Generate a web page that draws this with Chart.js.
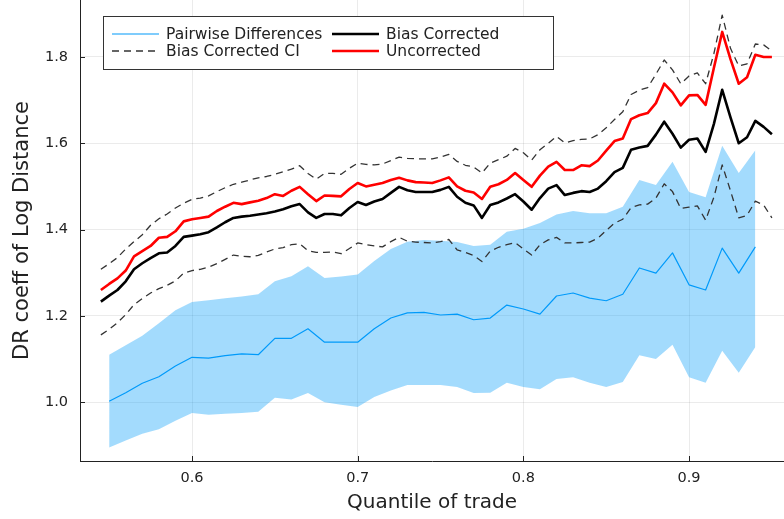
<!DOCTYPE html>
<html>
<head>
<meta charset="utf-8">
<script src="https://cdn.jsdelivr.net/npm/chart.js@4"></script>
<style>
  html, body { margin: 0; padding: 0; background: #fff; }
  #wrap { position: relative; width: 784px; height: 519px; }
</style>
</head>
<body>
<div id="wrap"><canvas id="chart"></canvas></div>
<script>
// quantile grid for the bias corrected / uncorrected lines
const lineX = [
  0.545, 0.55, 0.555, 0.56, 0.565, 0.57, 0.575, 0.58, 0.585, 0.59,
  0.595, 0.6, 0.605, 0.61, 0.615, 0.62, 0.625, 0.63, 0.635, 0.64,
  0.645, 0.65, 0.655, 0.66, 0.665, 0.67, 0.675, 0.68, 0.685, 0.69,
  0.695, 0.7, 0.705, 0.71, 0.715, 0.72, 0.725, 0.73, 0.735, 0.74,
  0.745, 0.75, 0.755, 0.76, 0.765, 0.77, 0.775, 0.78, 0.785, 0.79,
  0.795, 0.8, 0.805, 0.81, 0.815, 0.82, 0.825, 0.83, 0.835, 0.84,
  0.845, 0.85, 0.855, 0.86, 0.865, 0.87, 0.875, 0.88, 0.885, 0.89,
  0.895, 0.9, 0.905, 0.91, 0.915, 0.92, 0.925, 0.93, 0.935, 0.94,
  0.945, 0.95
];
const biasCorrected = [
  1.233, 1.247, 1.260, 1.280, 1.308, 1.322, 1.334, 1.345, 1.347, 1.362,
  1.383, 1.386, 1.389, 1.394, 1.405, 1.417, 1.427, 1.430, 1.432, 1.435,
  1.438, 1.442, 1.447, 1.454, 1.459, 1.440, 1.427, 1.436, 1.436, 1.433,
  1.450, 1.464, 1.457, 1.465, 1.471, 1.485, 1.499, 1.491, 1.487, 1.487,
  1.487, 1.492, 1.499, 1.476, 1.462, 1.456, 1.427, 1.457, 1.463, 1.472,
  1.482, 1.465, 1.446, 1.473, 1.495, 1.503, 1.480, 1.485, 1.489, 1.487,
  1.495, 1.512, 1.533, 1.543, 1.585, 1.590, 1.594, 1.620, 1.650, 1.622,
  1.590, 1.608, 1.611, 1.580, 1.645, 1.724, 1.660, 1.600, 1.614, 1.652,
  1.638, 1.621
];
const uncorrected = [
  1.260, 1.274, 1.287, 1.305, 1.338, 1.350, 1.362, 1.381, 1.383, 1.396,
  1.419, 1.424, 1.427, 1.430, 1.443, 1.453, 1.462, 1.459, 1.463, 1.467,
  1.473, 1.482, 1.478, 1.490, 1.499, 1.482, 1.466, 1.479, 1.478, 1.477,
  1.494, 1.508, 1.500, 1.504, 1.508, 1.515, 1.520, 1.514, 1.510, 1.509,
  1.508, 1.514, 1.521, 1.500, 1.490, 1.486, 1.471, 1.499, 1.505, 1.515,
  1.531, 1.515, 1.499, 1.525, 1.546, 1.557, 1.538, 1.538, 1.549, 1.547,
  1.560, 1.583, 1.605, 1.611, 1.656, 1.665, 1.670, 1.693, 1.738, 1.718,
  1.688, 1.711, 1.712, 1.689, 1.775, 1.858, 1.795, 1.738, 1.753, 1.805,
  1.800, 1.800
];
const ciUpper = [
  1.308, 1.321, 1.335, 1.355, 1.372, 1.388, 1.410, 1.425, 1.436, 1.450,
  1.461, 1.470, 1.473, 1.478, 1.488, 1.497, 1.505, 1.510, 1.515, 1.520,
  1.523, 1.528, 1.534, 1.540, 1.548, 1.530, 1.517, 1.530, 1.530, 1.528,
  1.542, 1.554, 1.551, 1.550, 1.552, 1.560, 1.568, 1.565, 1.564, 1.564,
  1.564, 1.568, 1.574, 1.558, 1.549, 1.545, 1.531, 1.554, 1.562, 1.570,
  1.588, 1.578, 1.561, 1.585, 1.600, 1.616, 1.601, 1.606, 1.609, 1.610,
  1.620, 1.636, 1.655, 1.673, 1.713, 1.723, 1.729, 1.760, 1.793, 1.770,
  1.738, 1.756, 1.763, 1.738, 1.808, 1.897, 1.820, 1.779, 1.784, 1.830,
  1.828, 1.814
];
const ciLower = [
  1.156, 1.169, 1.184, 1.203, 1.226, 1.240, 1.253, 1.263, 1.271, 1.281,
  1.299, 1.305, 1.308, 1.313, 1.321, 1.331, 1.341, 1.338, 1.337, 1.340,
  1.348, 1.355, 1.358, 1.365, 1.367, 1.351, 1.347, 1.347, 1.348, 1.344,
  1.356, 1.369, 1.365, 1.362, 1.360, 1.372, 1.382, 1.373, 1.371, 1.370,
  1.369, 1.372, 1.377, 1.353, 1.347, 1.340, 1.326, 1.350, 1.359, 1.365,
  1.370, 1.355, 1.341, 1.365, 1.376, 1.382, 1.369, 1.369, 1.370, 1.371,
  1.380, 1.398, 1.415, 1.424, 1.451, 1.457, 1.459, 1.473, 1.506, 1.488,
  1.449, 1.452, 1.455, 1.422, 1.475, 1.550, 1.490, 1.427, 1.433, 1.466,
  1.457, 1.427
];

// pairwise differences: estimate and band
const pairX = [
  0.55, 0.56, 0.57, 0.58, 0.59, 0.6, 0.61, 0.62, 0.63, 0.64,
  0.65, 0.66, 0.67, 0.68, 0.69, 0.7, 0.71, 0.72, 0.73, 0.74,
  0.75, 0.76, 0.77, 0.78, 0.79, 0.8, 0.81, 0.82, 0.83, 0.84,
  0.85, 0.86, 0.87, 0.88, 0.89, 0.9, 0.91, 0.92, 0.93, 0.94
];
const pairMid = [
  1.002, 1.022, 1.044, 1.059, 1.084, 1.104, 1.102, 1.108, 1.112, 1.110,
  1.148, 1.148, 1.170, 1.139, 1.139, 1.139, 1.170, 1.195, 1.207, 1.208,
  1.202, 1.204, 1.191, 1.195, 1.225, 1.216, 1.204, 1.246, 1.253, 1.241,
  1.235, 1.250, 1.311, 1.299, 1.346, 1.272, 1.260, 1.357, 1.299, 1.360
];
const pairHi = [
  1.110, 1.132, 1.154, 1.183, 1.213, 1.232, 1.236, 1.241, 1.245, 1.250,
  1.280, 1.292, 1.315, 1.288, 1.291, 1.296, 1.327, 1.355, 1.372, 1.376,
  1.374, 1.371, 1.362, 1.365, 1.395, 1.402, 1.415, 1.435, 1.443, 1.438,
  1.438, 1.453, 1.515, 1.503, 1.557, 1.487, 1.475, 1.594, 1.531, 1.584
];
const pairLo = [
  0.895, 0.911, 0.927, 0.937, 0.957, 0.975, 0.971, 0.973, 0.975, 0.978,
  1.010, 1.006, 1.021, 1.000, 0.994, 0.989, 1.012, 1.027, 1.040, 1.040,
  1.040, 1.035, 1.021, 1.022, 1.045, 1.035, 1.030, 1.054, 1.058, 1.045,
  1.035, 1.047, 1.109, 1.100, 1.133, 1.058, 1.045, 1.119, 1.068, 1.128
];

const xTicks = [0.6, 0.7, 0.8, 0.9];
const yTicks = [1.0, 1.2, 1.4, 1.6, 1.8];

const legendItems = [
  { label: 'Pairwise Differences', color: '#009AFA', width: 1.2, dash: [] },
  { label: 'Bias Corrected', color: '#000000', width: 2.6, dash: [] },
  { label: 'Bias Corrected CI', color: '#333333', width: 1.3, dash: [7, 5] },
  { label: 'Uncorrected', color: '#FF0000', width: 2.6, dash: [] }
];

const FONT = "'DejaVu Sans', sans-serif";
const pts = (xs, ys) => xs.map((x, i) => ({ x: x, y: ys[i] }));

// Julia-style ticks pointing into the plot area
const innerTicks = {
  id: 'innerTicks',
  afterDatasetsDraw(chart) {
    const { ctx, chartArea, scales } = chart;
    ctx.save();
    ctx.strokeStyle = '#222';
    ctx.lineWidth = 1;
    ctx.beginPath();
    xTicks.forEach(v => {
      const px = Math.round(scales.x.getPixelForValue(v)) + 0.5;
      ctx.moveTo(px, chartArea.bottom);
      ctx.lineTo(px, chartArea.bottom - 5);
    });
    yTicks.forEach(v => {
      const py = Math.round(scales.y.getPixelForValue(v)) + 0.5;
      ctx.moveTo(chartArea.left, py);
      ctx.lineTo(chartArea.left + 5, py);
    });
    ctx.stroke();
    ctx.restore();
  }
};

// two-column boxed legend in the upper left
const boxLegend = {
  id: 'boxLegend',
  afterDraw(chart) {
    const ctx = chart.ctx;
    const left = 103.5, top = 16.5, w = 450, h = 53;
    ctx.save();
    ctx.fillStyle = '#fff';
    ctx.fillRect(left, top, w, h);
    ctx.strokeStyle = '#333';
    ctx.lineWidth = 1;
    ctx.strokeRect(left, top, w, h);
    ctx.font = '15.5px ' + FONT;
    ctx.textBaseline = 'middle';
    ctx.fillStyle = '#222';
    legendItems.forEach((item, i) => {
      const col = i % 2, row = Math.floor(i / 2);
      const x0 = col === 0 ? 112 : 332;
      const y0 = 34 + row * 17;
      ctx.beginPath();
      ctx.strokeStyle = item.color;
      ctx.lineWidth = item.width;
      ctx.setLineDash(item.dash);
      ctx.moveTo(x0, y0);
      ctx.lineTo(x0 + 47, y0);
      ctx.stroke();
      ctx.setLineDash([]);
      ctx.fillText(item.label, x0 + 54, y0 + 1);
    });
    ctx.restore();
  }
};

new Chart(document.getElementById('chart'), {
  type: 'line',
  data: {
    datasets: [
      {
        label: 'band low',
        data: pts(pairX, pairLo),
        borderWidth: 0,
        pointRadius: 0,
        fill: false,
        order: 6
      },
      {
        label: 'band high',
        data: pts(pairX, pairHi),
        borderWidth: 0,
        pointRadius: 0,
        backgroundColor: 'rgba(0, 154, 250, 0.36)',
        fill: '-1',
        order: 5
      },
      {
        label: 'Pairwise Differences',
        data: pts(pairX, pairMid),
        borderColor: '#009AFA',
        borderWidth: 1.2,
        pointRadius: 0,
        order: 4
      },
      {
        label: 'Bias Corrected CI',
        data: pts(lineX, ciUpper),
        borderColor: '#333333',
        borderWidth: 1.3,
        borderDash: [7, 5],
        pointRadius: 0,
        order: 3
      },
      {
        label: 'Bias Corrected CI lower',
        data: pts(lineX, ciLower),
        borderColor: '#333333',
        borderWidth: 1.3,
        borderDash: [7, 5],
        pointRadius: 0,
        order: 2
      },
      {
        label: 'Bias Corrected',
        data: pts(lineX, biasCorrected),
        borderColor: '#000000',
        borderWidth: 2.6,
        pointRadius: 0,
        order: 1
      },
      {
        label: 'Uncorrected',
        data: pts(lineX, uncorrected),
        borderColor: '#FF0000',
        borderWidth: 2.6,
        pointRadius: 0,
        order: 0
      }
    ]
  },
  options: {
    responsive: true,
    maintainAspectRatio: false,
    animation: false,
    layout: { padding: 0 },
    elements: { line: { tension: 0, borderJoinStyle: 'round' } },
    plugins: {
      legend: { display: false },
      tooltip: { enabled: false }
    },
    scales: {
      x: {
        type: 'linear',
        min: 0.5324,
        max: 0.9573,
        afterBuildTicks: (scale) => { scale.ticks = xTicks.map(v => ({ value: v })); },
        afterFit: (scale) => {
          scale.height = 58;
          scale.paddingLeft = 0;
          scale.paddingRight = 0;
        },
        grid: { color: 'rgba(0,0,0,0.08)', drawTicks: false },
        border: { color: '#222', width: 1 },
        ticks: {
          padding: 9,
          color: '#222',
          font: { family: FONT, size: 14.5 },
          callback: (v) => v.toFixed(1)
        },
        title: {
          display: true,
          text: 'Quantile of trade',
          color: '#222',
          font: { family: FONT, size: 20 },
          padding: { top: 0, bottom: 4 }
        }
      },
      y: {
        type: 'linear',
        min: 0.8637,
        max: 1.932,
        afterBuildTicks: (scale) => { scale.ticks = yTicks.map(v => ({ value: v })); },
        afterFit: (scale) => {
          scale.width = 80;
          scale.paddingTop = 0;
          scale.paddingBottom = 0;
        },
        grid: { color: 'rgba(0,0,0,0.08)', drawTicks: false },
        border: { color: '#222', width: 1 },
        ticks: {
          padding: 12,
          color: '#222',
          font: { family: FONT, size: 14.5 },
          callback: (v) => v.toFixed(1)
        },
        title: {
          display: true,
          text: 'DR coeff of Log Distance',
          color: '#222',
          font: { family: FONT, size: 21 },
          padding: { top: 10, bottom: 0 }
        }
      }
    }
  },
  plugins: [innerTicks, boxLegend]
});
</script>
</body>
</html>
